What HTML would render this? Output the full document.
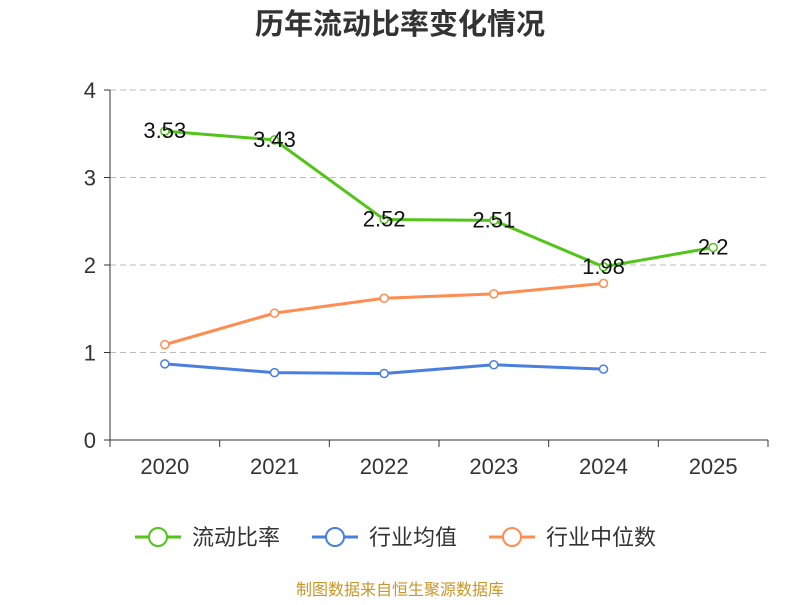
<!DOCTYPE html>
<html><head><meta charset="utf-8"><style>
body{margin:0;background:#fff;}
svg text{font-family:"Liberation Sans","Noto Sans CJK SC",sans-serif;}
</style></head><body>
<svg id="chart" width="800" height="600">
<text x="400" y="34" text-anchor="middle" font-size="29" font-weight="bold" fill="#333">历年流动比率变化情况</text>
<g id="grid"></g><g id="axes"></g><g id="series"></g><g id="labels"></g>
<g>
<g><line x1="135" y1="537" x2="181" y2="537" stroke="#52c41a" stroke-width="3"/><circle cx="158" cy="537" r="9" fill="#fff" stroke="#52c41a" stroke-width="2"/><text x="192" y="545" font-size="22" fill="#333">流动比率</text></g>
<g><line x1="312" y1="537" x2="358" y2="537" stroke="#4a7fe0" stroke-width="3"/><circle cx="335" cy="537" r="9" fill="#fff" stroke="#4a7fe0" stroke-width="2"/><text x="369" y="545" font-size="22" fill="#333">行业均值</text></g>
<g><line x1="489" y1="537" x2="535" y2="537" stroke="#ff8c50" stroke-width="3"/><circle cx="512" cy="537" r="9" fill="#fff" stroke="#ff8c50" stroke-width="2"/><text x="546" y="545" font-size="22" fill="#333">行业中位数</text></g>
</g>
<text x="400" y="595" text-anchor="middle" font-size="16" fill="#c8962a">制图数据来自恒生聚源数据库</text>
</svg>
<script>
const categories=["2020","2021","2022","2023","2024","2025"];
const currentRatio=[3.53,3.43,2.52,2.51,1.98,2.2];
const industryAvg=[0.87,0.77,0.76,0.86,0.81];
const industryMedian=[1.09,1.45,1.62,1.67,1.79];
const yTicks=[0,1,2,3,4];
const NS="http://www.w3.org/2000/svg";
const x0=110,x1=768,y0=440,yTop=90,yMax=4;
const bw=(x1-x0)/categories.length;
const xs=i=>x0+bw*(i+0.5);
const ys=v=>y0-(v/yMax)*(y0-yTop);
function mk(tag,attrs,parent){const e=document.createElementNS(NS,tag);for(const k in attrs)e.setAttribute(k,attrs[k]);document.getElementById(parent).appendChild(e);return e;}
yTicks.forEach(t=>{
 if(t>0){const g=mk('line',{x1:x0,x2:x1,y1:ys(t),y2:ys(t),stroke:'#bbb','stroke-dasharray':'6,4'},'grid');
 
 }
 const tk=mk('line',{x1:x0-6,x2:x0,y1:ys(t),y2:ys(t),stroke:'#333'},'axes');
 
 
 const l=mk('text',{x:x0-14,y:ys(t)+8,'text-anchor':'end','font-size':'22',fill:'#333'},'axes');l.textContent=t;
 
 
});
const ya=mk('line',{x1:x0,x2:x0,y1:yTop,y2:y0,stroke:'#333'},'axes');


const xa=mk('line',{x1:x0,x2:x1,y1:y0,y2:y0,stroke:'#333'},'axes');


for(let i=0;i<=categories.length;i++){const t=mk('line',{x1:x0+bw*i,x2:x0+bw*i,y1:y0,y2:y0+7,stroke:'#333'},'axes');
 
 }
categories.forEach((c,i)=>{const l=mk('text',{x:xs(i),y:y0+34,'text-anchor':'middle','font-size':'22',fill:'#333'},'axes');l.textContent=c;
 
 });
function series(vals,color,name){
 const p=mk('polyline',{points:vals.map((v,i)=>xs(i)+','+ys(v)).join(' '),fill:'none',stroke:color,'stroke-width':3,'stroke-linejoin':'round'},'series');
 
 
 vals.forEach((v,i)=>{const c=mk('circle',{cx:xs(i),cy:ys(v),r:4,fill:'#fff',stroke:color,'stroke-width':1.5},'series');
  
  });
}
series(industryAvg,'#4a7fe0','industry-average');
series(industryMedian,'#ff8c50','industry-median');
series(currentRatio,'#52c41a','current-ratio');
currentRatio.forEach((v,i)=>{const l=mk('text',{x:xs(i),y:ys(v)+7,'text-anchor':'middle','font-size':'22',fill:'#111'},'labels');l.textContent=v;
 
 });
</script>
</body></html>
